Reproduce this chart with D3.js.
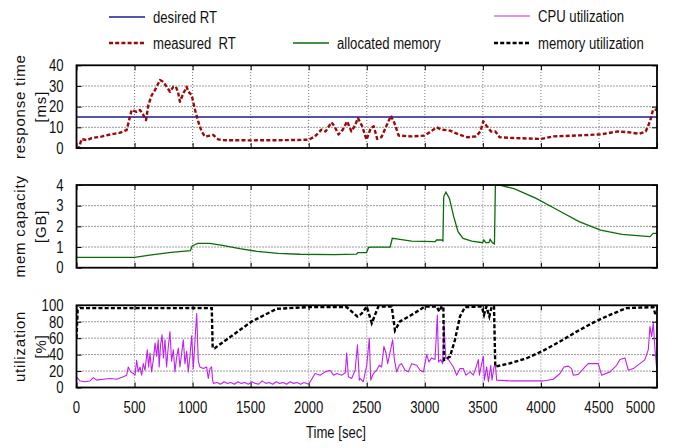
<!DOCTYPE html>
<html>
<head>
<meta charset="utf-8">
<script src="https://cdn.jsdelivr.net/npm/d3@7"></script>
<style>
  html, body { margin: 0; padding: 0; background: #fff; }
  svg { display: block; }
  text { font-family: "Liberation Sans", Arial, sans-serif; }
</style>
</head>
<body>
<svg id="chart" width="673" height="448"></svg>
<script>
// ---- series: [time (s), value] ----
const desiredRT = [[0, 15], [5000, 15]];

const measuredRT = [
  [0, 0], [20, 0], [44, 4.3], [92, 3.8], [130, 4.8], [222, 5.6], [296, 6.6], [370, 7.3],
  [432, 8.7], [475, 18.4], [518, 17.5], [547, 18.4], [575, 16], [599, 13.5], [619, 20.8],
  [648, 25.6], [676, 28], [719, 32.9], [748, 32], [777, 29.6], [805, 27.2], [834, 29.6],
  [857, 29.6], [877, 26.4], [891, 22.4], [920, 26.4], [949, 29.6], [963, 27.2], [992, 25.6],
  [1021, 18.4], [1049, 12.7], [1078, 7.9], [1107, 5.5], [1178, 6.3], [1221, 4.2], [1250, 3.8],
  [1500, 3.7], [1800, 3.8], [2000, 4.0], [2054, 5.6], [2110, 8.9], [2146, 8], [2195, 12.4],
  [2220, 10.8], [2257, 6.5], [2294, 8.9], [2331, 12.9], [2368, 8], [2398, 10.8], [2424, 14.5],
  [2461, 10.5], [2498, 4], [2535, 9.7], [2560, 10.5], [2590, 4.4], [2627, 5.3], [2683, 12.4],
  [2708, 15.6], [2738, 12.1], [2775, 6], [2886, 5.6], [2997, 6], [3053, 8], [3101, 10],
  [3145, 8.9], [3219, 8.4], [3293, 6.5], [3367, 5.2], [3441, 5.6], [3478, 8], [3504, 12.9],
  [3534, 10.5], [3571, 8], [3608, 8], [3645, 5.2], [3774, 4.8], [4003, 4.4], [4107, 5.6],
  [4329, 6.1], [4514, 6.6], [4662, 8], [4755, 7.6], [4847, 6.9], [4903, 8], [4940, 12.9],
  [4966, 18.5], [5000, 18.5]
];

const allocatedMemory = [
  [0, 0.5], [500, 0.5], [630, 0.61], [815, 0.74], [981, 0.82], [996, 1.05], [1018, 1.11],
  [1044, 1.18], [1147, 1.18], [1258, 1.08], [1406, 0.92], [1554, 0.79], [1739, 0.69],
  [1924, 0.65], [2220, 0.63], [2412, 0.66], [2424, 0.73], [2498, 0.73], [2516, 0.98],
  [2535, 1.0], [2701, 1.0], [2720, 1.42], [2757, 1.39], [2886, 1.29], [3090, 1.26],
  [3101, 1.34], [3145, 1.34], [3156, 1.29], [3163, 3.44], [3182, 3.65], [3212, 3.35],
  [3249, 2.47], [3286, 1.74], [3330, 1.42], [3404, 1.29], [3497, 1.21], [3508, 1.34],
  [3526, 1.21], [3552, 1.21], [3563, 1.37], [3582, 1.21], [3600, 1.15], [3608, 4.0],
  [3645, 4.0], [3774, 3.81], [3959, 3.35], [4144, 2.79], [4329, 2.23], [4514, 1.82],
  [4699, 1.61], [4884, 1.53], [4940, 1.5], [4966, 1.66], [5000, 1.66]
];

const memoryUtil = [
  [0, 60], [10, 94], [30, 96.6], [600, 96.6], [1165, 96.6], [1173, 47.8], [1190, 47.8],
  [1509, 80.3], [1724, 95.7], [1997, 97.8], [2327, 97.8], [2419, 86.4], [2442, 88.4],
  [2457, 90], [2500, 98.5], [2543, 78.3], [2600, 98.5], [2715, 98.5], [2743, 69.3],
  [2786, 80.3], [2873, 87.2], [3002, 98.5], [3102, 98.5], [3125, 92.5], [3145, 98.5],
  [3160, 98.5], [3165, 33.5], [3217, 37.6], [3260, 58], [3303, 86.4], [3346, 97.8],
  [3490, 98.5], [3510, 88.4], [3530, 98.5], [3556, 86.4], [3576, 98.5], [3596, 98.5],
  [3607, 25.4], [3734, 29.5], [3878, 35.6], [4021, 44.9], [4164, 55.9], [4308, 68],
  [4451, 79], [4595, 88.4], [4739, 96.6], [4968, 97.8], [4983, 90.5], [5000, 90]
];

const cpuUtil = [
  [0, 13], [30, 8], [73, 7], [116, 8], [145, 12], [174, 9], [231, 10], [289, 11], [346, 10],
  [403, 13], [432, 15], [446, 25], [466, 19], [489, 17], [504, 15], [518, 33], [532, 19],
  [547, 25], [561, 15], [575, 29], [590, 21], [610, 46], [621, 25], [633, 42], [647, 19],
  [661, 33], [677, 54], [690, 38], [704, 58], [712, 25], [724, 52], [737, 64], [748, 36],
  [762, 58], [776, 25], [791, 50], [805, 68], [819, 32], [834, 46], [848, 19], [862, 36],
  [877, 48], [891, 25], [906, 42], [920, 58], [934, 29], [949, 44], [963, 19], [977, 38],
  [992, 63], [1006, 23], [1020, 56], [1035, 90], [1049, 32], [1063, 25], [1092, 23],
  [1121, 25], [1135, 11], [1150, 23], [1164, 25], [1172, 9], [1180, 5], [1210, 6], [1240, 4],
  [1270, 7], [1300, 5], [1330, 6], [1360, 4], [1390, 7], [1420, 5], [1450, 6], [1480, 4],
  [1510, 7], [1540, 5], [1570, 4], [1600, 8], [1630, 5], [1660, 6], [1690, 4], [1720, 7],
  [1750, 5], [1780, 6], [1810, 4], [1840, 7], [1870, 5], [1900, 6], [1930, 4], [1960, 6],
  [2000, 4], [2055, 17], [2098, 15], [2141, 19], [2184, 21], [2213, 15], [2242, 17],
  [2285, 15], [2315, 18], [2327, 42], [2342, 13], [2370, 11], [2400, 21], [2420, 52],
  [2436, 9], [2442, 11], [2470, 7], [2500, 27], [2522, 60], [2534, 9], [2557, 17],
  [2585, 21], [2608, 27], [2628, 25], [2648, 50], [2666, 42], [2680, 29], [2700, 42],
  [2723, 58], [2738, 34], [2758, 19], [2780, 27], [2800, 29], [2830, 21], [2858, 19],
  [2887, 29], [2930, 27], [2959, 21], [2988, 19], [3016, 40], [3036, 31], [3059, 36],
  [3088, 34], [3108, 88], [3119, 31], [3137, 34], [3154, 29], [3165, 78], [3180, 36],
  [3203, 34], [3246, 25], [3275, 15], [3303, 23], [3332, 23], [3355, 15], [3390, 19],
  [3418, 15], [3447, 27], [3461, 34], [3470, 15], [3490, 29], [3504, 38], [3513, 9],
  [3533, 25], [3548, 7], [3568, 27], [3579, 9], [3596, 25], [3608, 27], [3619, 9],
  [3734, 8], [3878, 8], [4021, 8], [4107, 10], [4164, 17], [4199, 25], [4236, 26],
  [4265, 23], [4279, 15], [4322, 16], [4380, 25], [4408, 29], [4494, 29], [4523, 15],
  [4595, 19], [4652, 27], [4681, 34], [4724, 36], [4753, 21], [4796, 23], [4853, 29],
  [4896, 34], [4925, 46], [4939, 74], [4954, 62], [4968, 78], [4983, 46], [4997, 23]
];

// ---- tick values ----
const timeTicks = [0, 500, 1000, 1500, 2000, 2500, 3000, 3500, 4000, 4500, 5000];
const rtTicks = [0, 10, 20, 30, 40];
const memTicks = [0, 1, 2, 3, 4];
const utilTicks = [0, 20, 40, 60, 80, 100];

// condensed lettering: glyphs squeezed horizontally
const SQUEEZE = 0.82;
function placeNarrow(sel, fx, fy) {
  return sel.attr("transform", (d, i) => `translate(${fx(d, i)},${fy(d, i)}) scale(${SQUEEZE},1)`);
}

// ---- layout ----
const svg = d3.select("#chart");
const x = d3.scaleLinear().domain([0, 5000]).range([76.5, 657]);

const panels = [
  { id: "rt",   y: d3.scaleLinear().domain([0, 40]).range([148, 65.3]),
    ticks: rtTicks, title: ["response time", "[ms]"] },
  { id: "mem",  y: d3.scaleLinear().domain([0, 4]).range([267.7, 185]),
    ticks: memTicks, title: ["mem capacity", "[GB]"] },
  { id: "util", y: d3.scaleLinear().domain([0, 100]).range([387.5, 305.3]),
    ticks: utilTicks, title: ["utilization", "[%]"] }
];

const defs = svg.append("defs");

panels.forEach(p => {
  const [y0, y1] = p.y.range();
  const g = svg.append("g");

  defs.append("clipPath").attr("id", "clip-" + p.id)
    .append("rect").attr("x", x.range()[0]).attr("y", y1)
    .attr("width", x.range()[1] - x.range()[0]).attr("height", y0 - y1);

  // dotted grid
  g.append("g").selectAll("line")
    .data(p.ticks.slice(1, -1)).join("line")
    .attr("x1", x.range()[0]).attr("x2", x.range()[1])
    .attr("y1", d => p.y(d)).attr("y2", d => p.y(d))
    .attr("stroke", "#333").attr("stroke-width", 1).attr("stroke-dasharray", "1,2");
  g.append("g").selectAll("line")
    .data(timeTicks.slice(1, -1)).join("line")
    .attr("x1", d => x(d)).attr("x2", d => x(d))
    .attr("y1", y0).attr("y2", y1)
    .attr("stroke", "#777").attr("stroke-width", 1).attr("stroke-dasharray", "1,2");

  // inward ticks on all four sides
  const tickLen = 5;
  g.append("g").call(d3.axisLeft(p.y).tickValues(p.ticks).tickSize(-tickLen).tickFormat(""))
    .attr("transform", `translate(${x.range()[0]},0)`)
    .call(s => s.select(".domain").remove());
  g.append("g").call(d3.axisRight(p.y).tickValues(p.ticks).tickSize(-tickLen).tickFormat(""))
    .attr("transform", `translate(${x.range()[1]},0)`)
    .call(s => s.select(".domain").remove());
  g.append("g").call(d3.axisBottom(x).tickValues(timeTicks).tickSize(-tickLen).tickFormat(""))
    .attr("transform", `translate(0,${y0})`)
    .call(s => s.select(".domain").remove());
  g.append("g").call(d3.axisTop(x).tickValues(timeTicks).tickSize(-tickLen).tickFormat(""))
    .attr("transform", `translate(0,${y1})`)
    .call(s => s.select(".domain").remove());
  g.selectAll(".tick line").attr("stroke", "#000").attr("stroke-width", 1);

  // y tick labels
  g.append("g").selectAll("text")
    .data(p.ticks).join("text")
    .call(placeNarrow, () => x.range()[0] - 13, d => p.y(d))
    .attr("dy", "0.36em").attr("text-anchor", "end")
    .attr("font-size", 16).attr("fill", "#111")
    .text(d => d);

  // y title (two rotated lines)
  const cy = (y0 + y1) / 2;
  p.title.forEach((t, k) => {
    svg.append("text")
      .attr("transform", `translate(${k === 0 ? 25 : 46},${cy}) rotate(-90)`)
      .attr("text-anchor", "middle").attr("font-size", 15)
      .attr("letter-spacing", 0.8).attr("fill", "#111")
      .text(t);
  });

  p.clip = "url(#clip-" + p.id + ")";
});

function line(yScale) {
  return d3.line().x(d => x(d[0])).y(d => yScale(d[1]));
}

// panel 1: response time
const P1 = panels[0];
svg.append("path").datum(desiredRT).attr("clip-path", P1.clip)
  .attr("d", line(P1.y)).attr("fill", "none")
  .attr("stroke", "#1c1c96").attr("stroke-width", 1.4);
svg.append("path").datum(measuredRT).attr("clip-path", P1.clip)
  .attr("d", line(P1.y)).attr("fill", "none")
  .attr("stroke", "#9a0a0a").attr("stroke-width", 2.4)
  .attr("stroke-dasharray", "4,2.2").attr("stroke-linejoin", "round");

// panel 2: allocated memory
const P2 = panels[1];
svg.append("path").datum(allocatedMemory).attr("clip-path", P2.clip)
  .attr("d", line(P2.y)).attr("fill", "none")
  .attr("stroke", "#0b6b0b").attr("stroke-width", 1.3);

// panel 3: utilization
const P3 = panels[2];
svg.append("path").datum(cpuUtil).attr("clip-path", P3.clip)
  .attr("d", line(P3.y)).attr("fill", "none")
  .attr("stroke", "#c020f0").attr("stroke-width", 1.1).attr("stroke-linejoin", "round");
svg.append("path").datum(memoryUtil).attr("clip-path", P3.clip)
  .attr("d", line(P3.y)).attr("fill", "none")
  .attr("stroke", "#000").attr("stroke-width", 2.4)
  .attr("stroke-dasharray", "4,2.2");

// frames
panels.forEach(p => {
  const [y0, y1] = p.y.range();
  svg.append("rect")
    .attr("x", x.range()[0]).attr("y", y1)
    .attr("width", x.range()[1] - x.range()[0]).attr("height", y0 - y1)
    .attr("fill", "none").attr("stroke", "#000").attr("stroke-width", 1.8);
});

// x tick labels (bottom panel only)
svg.append("g").selectAll("text")
  .data(timeTicks).join("text")
  .call(placeNarrow, d => d === 5000 ? x(d) - 2 : x(d), () => 413)
  .attr("text-anchor", d => d === 5000 ? "end" : "middle")
  .attr("font-size", 16).attr("fill", "#111")
  .text(d => d);

svg.append("text")
  .call(placeNarrow, () => 336, () => 438)
  .attr("text-anchor", "middle")
  .attr("font-size", 16).attr("fill", "#111")
  .text("Time [sec]");

// legend
const legend = [
  { label: "desired RT",         x: 109, y: 17, color: "#1c1c96", w: 1.4, dash: null },
  { label: "CPU utilization",    x: 494, y: 16, color: "#c020f0", w: 1.2, dash: null },
  { label: "measured  RT",       x: 109, y: 43, color: "#9a0a0a", w: 2.4, dash: "4,2.2" },
  { label: "allocated memory",   x: 293, y: 43, color: "#0b6b0b", w: 1.3, dash: null },
  { label: "memory utilization", x: 494, y: 43, color: "#000",    w: 2.4, dash: "4,2.2" }
];
const lg = svg.append("g").selectAll("g").data(legend).join("g")
  .attr("transform", d => `translate(${d.x},${d.y})`);
lg.append("line").attr("x1", 0).attr("x2", 36).attr("y1", 0).attr("y2", 0)
  .attr("stroke", d => d.color).attr("stroke-width", d => d.w)
  .attr("stroke-dasharray", d => d.dash);
lg.append("text")
  .call(placeNarrow, () => 44, () => 0)
  .attr("dy", "0.36em")
  .attr("font-size", 16).attr("fill", "#111")
  .style("white-space", "pre")
  .text(d => d.label);
</script>
</body>
</html>
